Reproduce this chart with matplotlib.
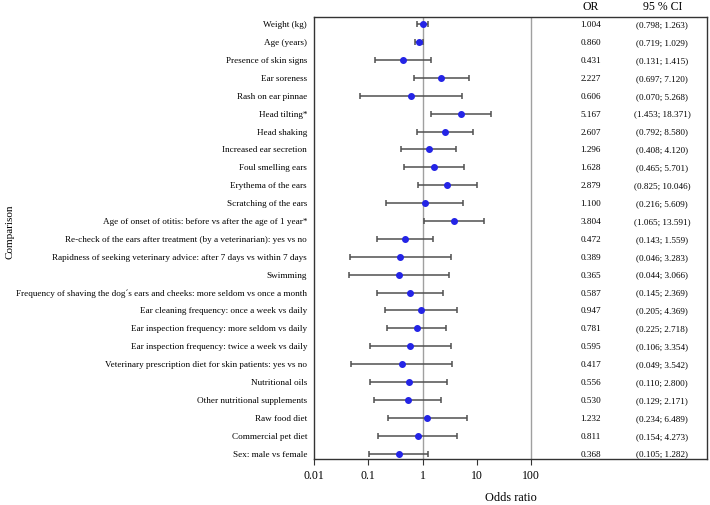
import numpy as np
import matplotlib
matplotlib.use("Agg")
import matplotlib.pyplot as plt
import matplotlib.transforms as mtransforms

plt.rcParams['font.family'] = ['Liberation Serif', 'DejaVu Serif']

labels = [
    "Weight (kg)",
    "Age (years)",
    "Presence of skin signs",
    "Ear soreness",
    "Rash on ear pinnae",
    "Head tilting*",
    "Head shaking",
    "Increased ear secretion",
    "Foul smelling ears",
    "Erythema of the ears",
    "Scratching of the ears",
    "Age of onset of otitis: before vs after the age of 1 year*",
    "Re-check of the ears after treatment (by a veterinarian): yes vs no",
    "Rapidness of seeking veterinary advice: after 7 days vs within 7 days",
    "Swimming",
    "Frequency of shaving the dog\u00b4s ears and cheeks: more seldom vs once a month",
    "Ear cleaning frequency: once a week vs daily",
    "Ear inspection frequency: more seldom vs daily",
    "Ear inspection frequency: twice a week vs daily",
    "Veterinary prescription diet for skin patients: yes vs no",
    "Nutritional oils",
    "Other nutritional supplements",
    "Raw food diet",
    "Commercial pet diet",
    "Sex: male vs female",
]
odds = [1.004, 0.860, 0.431, 2.227, 0.606, 5.167, 2.607, 1.296, 1.628, 2.879,
        1.100, 3.804, 0.472, 0.389, 0.365, 0.587, 0.947, 0.781, 0.595, 0.417,
        0.556, 0.530, 1.232, 0.811, 0.368]
ci_low = [0.798, 0.719, 0.131, 0.697, 0.070, 1.453, 0.792, 0.408, 0.465, 0.825,
          0.216, 1.065, 0.143, 0.046, 0.044, 0.145, 0.205, 0.225, 0.106, 0.049,
          0.110, 0.129, 0.234, 0.154, 0.105]
ci_high = [1.263, 1.029, 1.415, 7.120, 5.268, 18.371, 8.580, 4.120, 5.701, 10.046,
           5.609, 13.591, 1.559, 3.283, 3.066, 2.369, 4.369, 2.718, 3.354, 3.542,
           2.800, 2.171, 6.489, 4.273, 1.282]
xticks = [0.01, 0.1, 1, 10, 100]
xtick_labels = ["0.01", "0.1", "1", "10", "100"]

odds = np.array(odds)
lo = np.array(ci_low)
hi = np.array(ci_high)
n = len(labels)
y = np.arange(n)[::-1]

fig = plt.figure(figsize=(7.1, 5.05), dpi=100)
ax = fig.add_axes([314 / 710, 46 / 505, 393 / 710, 442 / 505])

ax.axvline(1, color="#a0a0a0", lw=1.0, zorder=1)
ax.axvline(100, color="#a0a0a0", lw=1.0, zorder=1)

ax.errorbar(odds, y, xerr=[odds - lo, hi - odds], fmt="none", ecolor="#505050",
            elinewidth=1.1, capsize=2.3, capthick=1.1, zorder=2)
ax.plot(odds, y, "o", color="#2424e6", markersize=4, zorder=3)

ax.set_xscale("log")
ax.set_xlim(0.01, 10 ** 5.244)
ax.set_ylim(-0.3, n - 1 + 0.4)
ax.set_xticks(xticks)
ax.set_xticklabels(xtick_labels, fontsize=8.5)
ax.minorticks_off()
ax.set_yticks(y)
ax.set_yticklabels(labels, fontsize=6.6, va="center_baseline")
ax.tick_params(axis="y", length=0, pad=5)
ax.tick_params(axis="x", length=4, pad=4, color="#333333")
ax.set_xlabel("Odds ratio", fontsize=8.8, labelpad=7)
for s in ax.spines.values():
    s.set_color("#333333")
    s.set_linewidth(1.0)

fig.text(10 / 710, 1 - 232 / 505, "Comparison", rotation=90, ha="center", va="center",
         fontsize=8)

# table columns on the right
or_x = 10 ** 3.1
ci_x = 10 ** 4.42
for yi, o, l, h in zip(y, odds, lo, hi):
    ax.text(or_x, yi, f"{o:.3f}", ha="center", va="center_baseline", fontsize=6.6)
    ax.text(ci_x, yi, f"({l:.3f}; {h:.3f})", ha="center", va="center_baseline", fontsize=6.6)
top = mtransforms.blended_transform_factory(ax.transData, ax.transAxes)
ax.text(or_x, 1 + 10 / 442, "OR", ha="center", va="center", fontsize=8.5, transform=top)
ax.text(ci_x, 1 + 10 / 442, "95 % CI", ha="center", va="center", fontsize=8.5, transform=top)

fig.savefig("out.png", dpi=100)
